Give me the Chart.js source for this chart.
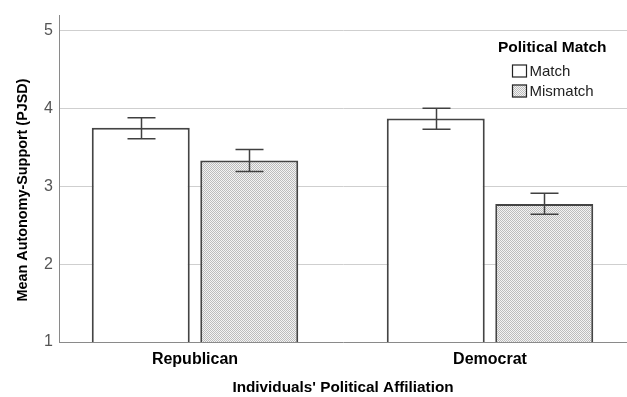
<!DOCTYPE html>
<html>
<head>
<meta charset="utf-8">
<script src="https://cdn.jsdelivr.net/npm/chart.js@4/dist/chart.umd.min.js"></script>
<style>
  html, body { margin: 0; padding: 0; background: #ffffff; }
  #wrap { width: 627px; height: 397px; position: relative; }
</style>
</head>
<body>
<div id="wrap"><canvas id="chart"></canvas></div>
<script>
// Group means with 95% CI bounds, by affiliation
const categories = ['Republican', 'Democrat'];
const seriesNames = ['Match', 'Mismatch'];
const matchMeans = [3.75, 3.87];
const mismatchMeans = [3.33, 2.77];
const matchLow = [3.61, 3.73];
const matchHigh = [3.88, 4.00];
const mismatchLow = [3.19, 2.64];
const mismatchHigh = [3.47, 2.91];
const yTicks = [1, 2, 3, 4, 5];

const FONT = "'Liberation Sans', Arial, sans-serif";
const EDGE = '#444444';

// Fine stipple fill for the Mismatch bars
function stipple() {
  const c = document.createElement('canvas');
  c.width = 2; c.height = 2;
  const g = c.getContext('2d');
  g.fillStyle = '#f3f3f3'; g.fillRect(0, 0, 2, 2);
  g.fillStyle = '#bcbcbc'; g.fillRect(0, 0, 1, 1); g.fillRect(1, 1, 1, 1);
  return g.createPattern(c, 'repeat');
}
const dots = stipple();

const toPoints = arr => arr.map((v, i) => ({ x: i + 1, y: v }));

// Error bars with caps, drawn from the CI arrays
const errorBars = {
  id: 'errorBars',
  afterDatasetsDraw(chart) {
    const { ctx, scales: { y } } = chart;
    const bounds = [[matchLow, matchHigh], [mismatchLow, mismatchHigh]];
    ctx.save();
    ctx.strokeStyle = '#404040';
    ctx.lineWidth = 1.5;
    bounds.forEach(([lo, hi], di) => {
      chart.getDatasetMeta(di).data.forEach((bar, i) => {
        const cx = Math.round(bar.x) + 0.5;
        const yl = y.getPixelForValue(lo[i]);
        const yh = y.getPixelForValue(hi[i]);
        const cap = 14;
        ctx.beginPath();
        ctx.moveTo(cx, yl); ctx.lineTo(cx, yh);
        ctx.moveTo(cx - cap, yh); ctx.lineTo(cx + cap, yh);
        ctx.moveTo(cx - cap, yl); ctx.lineTo(cx + cap, yl);
        ctx.stroke();
      });
    });
    ctx.restore();
  }
};

// Legend block with title, plus the rotated value-axis title
const annotations = {
  id: 'annotations',
  afterDraw(chart) {
    const { ctx } = chart;
    ctx.save();
    ctx.fillStyle = '#000';
    ctx.textBaseline = 'middle';
    ctx.textAlign = 'left';
    ctx.font = `bold 15.5px ${FONT}`;
    ctx.fillText('Political Match', 498, 47.5);
    ctx.font = `15px ${FONT}`;
    const fills = ['#ffffff', dots];
    seriesNames.forEach((name, i) => {
      const cy = 71 + i * 20;
      ctx.fillStyle = fills[i];
      ctx.fillRect(512, cy - 6.5, 15, 13);
      ctx.strokeStyle = '#222';
      ctx.lineWidth = 1.2;
      ctx.strokeRect(512.5, cy - 6, 14, 12);
      ctx.fillStyle = '#222';
      ctx.fillText(name, 529.5, cy + 0.5);
    });
    // value axis title
    ctx.translate(23, 190);
    ctx.rotate(-Math.PI / 2);
    ctx.textAlign = 'center';
    ctx.font = `bold 14.4px ${FONT}`;
    ctx.fillStyle = '#000';
    ctx.fillText('Mean Autonomy-Support (PJSD)', 0, 0);
    ctx.restore();
  }
};

new Chart(document.getElementById('chart'), {
  type: 'bar',
  data: {
    datasets: [
      {
        label: seriesNames[0],
        data: toPoints(matchMeans),
        backgroundColor: '#ffffff',
        borderColor: EDGE,
        borderWidth: 2,
        categoryPercentage: 0.7356,
        barPercentage: 0.903
      },
      {
        label: seriesNames[1],
        data: toPoints(mismatchMeans),
        backgroundColor: dots,
        borderColor: EDGE,
        borderWidth: 2,
        categoryPercentage: 0.7356,
        barPercentage: 0.903
      }
    ]
  },
  options: {
    responsive: true,
    maintainAspectRatio: false,
    animation: false,
    layout: { padding: { top: 14, right: 0, left: 0, bottom: 0 } },
    plugins: { legend: { display: false }, tooltip: { enabled: false } },
    scales: {
      x: {
        type: 'linear',
        offset: false,
        min: 1 - 136 / 295,
        max: 1 - 136 / 295 + 568 / 295,
        afterBuildTicks: s => { s.ticks = categories.map((_, i) => ({ value: i + 1 })); },
        afterFit: s => { s.height = 55; },
        grid: { display: false, drawTicks: false, offset: false },
        border: { display: true, color: '#8a8a8a', width: 1 },
        ticks: {
          callback: v => categories[v - 1],
          color: '#000',
          font: { family: FONT, size: 16, weight: 'bold' },
          padding: 8,
          maxRotation: 0
        },
        title: {
          display: true,
          text: "Individuals' Political Affiliation",
          color: '#000',
          font: { family: FONT, size: 15.3, weight: 'bold' },
          padding: { top: 0, bottom: 0 }
        }
      },
      y: {
        min: 1,
        max: 5.19,
        afterBuildTicks: s => { s.ticks = yTicks.map(v => ({ value: v })); },
        afterFit: s => { s.width = 59; },
        grid: {
          drawTicks: false,
          color: ctx => ctx.tick && ctx.tick.value === 1 ? 'rgba(0,0,0,0)' : '#cfcfcf',
          lineWidth: 1
        },
        border: { display: true, color: '#8a8a8a', width: 1 },
        ticks: {
          color: '#555555',
          font: { family: FONT, size: 16 },
          padding: 6
        }
      }
    }
  },
  plugins: [errorBars, annotations]
});
</script>
</body>
</html>
